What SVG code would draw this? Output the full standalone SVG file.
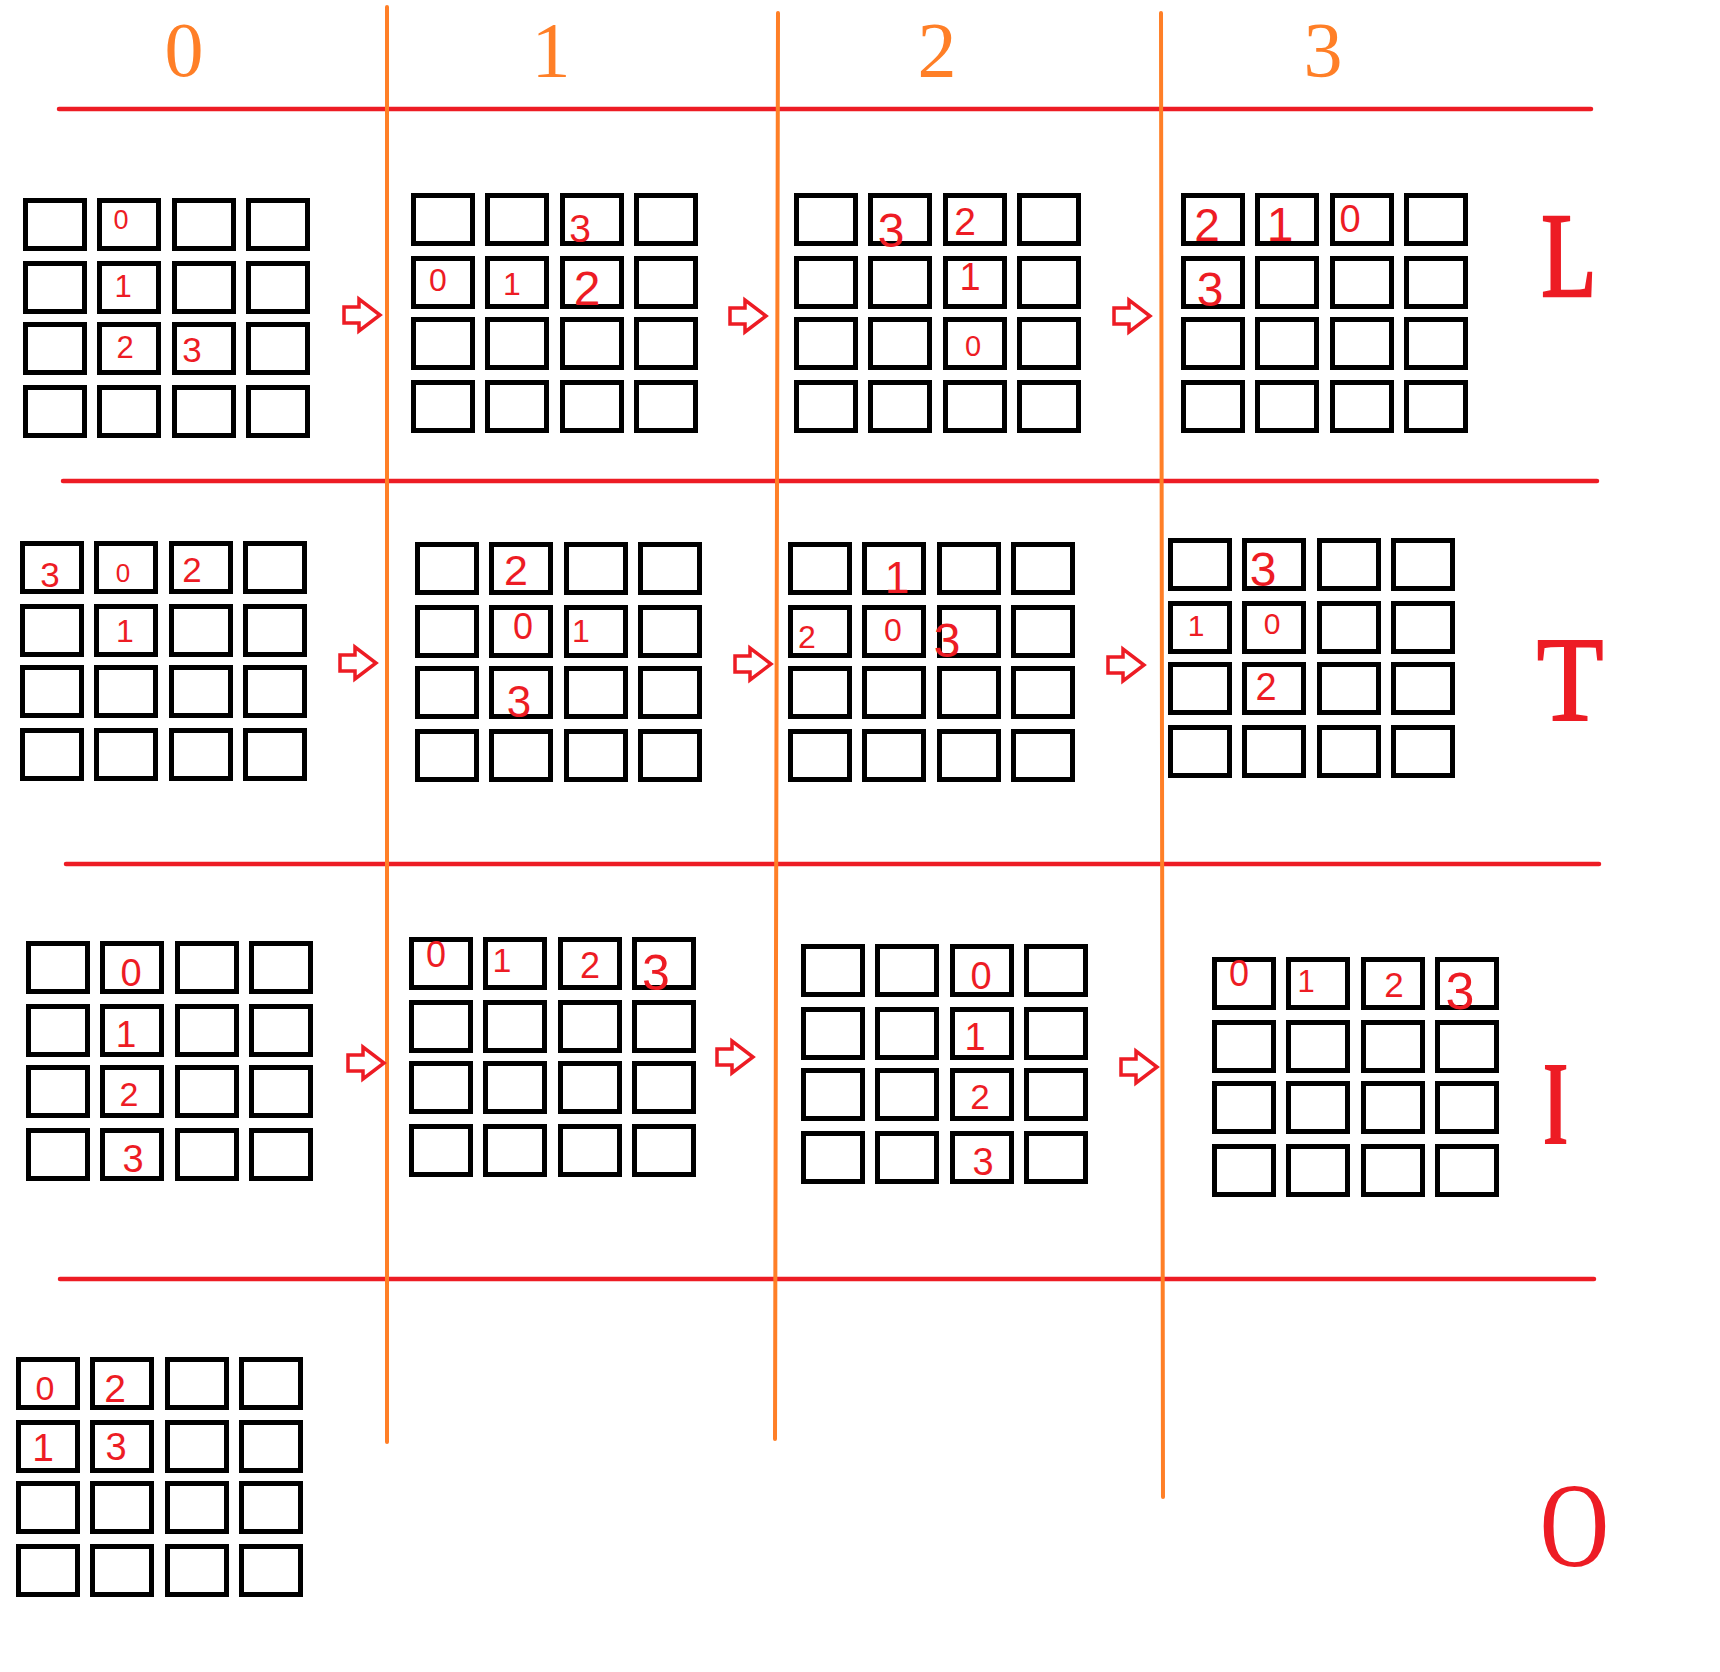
<svg xmlns="http://www.w3.org/2000/svg" xmlns:xlink="http://www.w3.org/1999/xlink" width="1720" height="1672" viewBox="0 0 1720 1672">
<style>
.cell{fill:none;stroke:#000;stroke-width:5}
.num{fill:#ED1C24;font-family:"Liberation Sans",Arial,sans-serif;text-anchor:middle}
.hdr{fill:#FF7F27;font-family:"Liberation Serif","Times New Roman",serif;font-size:78px;text-anchor:middle}
.big{fill:#ED1C24;stroke:#ED1C24;font-family:"Liberation Serif","Times New Roman",serif;font-size:120px;text-anchor:middle}
.vl{stroke:#FF7F27;stroke-width:4;stroke-linecap:round;fill:none}
.hl{stroke:#ED1C24;stroke-width:4.5;stroke-linecap:round;fill:none}
.arr{fill:#fff;stroke:#ED1C24;stroke-width:3.5;stroke-linejoin:miter}
</style>
<defs>
<g id="grid">
<rect class="cell" x="2.5" y="2.5" width="59" height="48"/><rect class="cell" x="76.5" y="2.5" width="59" height="48"/><rect class="cell" x="151.5" y="2.5" width="59" height="48"/><rect class="cell" x="225.5" y="2.5" width="59" height="48"/>
<rect class="cell" x="2.5" y="65.5" width="59" height="48"/><rect class="cell" x="76.5" y="65.5" width="59" height="48"/><rect class="cell" x="151.5" y="65.5" width="59" height="48"/><rect class="cell" x="225.5" y="65.5" width="59" height="48"/>
<rect class="cell" x="2.5" y="126.5" width="59" height="48"/><rect class="cell" x="76.5" y="126.5" width="59" height="48"/><rect class="cell" x="151.5" y="126.5" width="59" height="48"/><rect class="cell" x="225.5" y="126.5" width="59" height="48"/>
<rect class="cell" x="2.5" y="189.5" width="59" height="48"/><rect class="cell" x="76.5" y="189.5" width="59" height="48"/><rect class="cell" x="151.5" y="189.5" width="59" height="48"/><rect class="cell" x="225.5" y="189.5" width="59" height="48"/>
</g>
<polygon id="arrow" class="arr" points="-18,-8 -3,-8 -3,-16 18,0 -3,16 -3,8 -18,8"/>
</defs>
<rect width="1720" height="1672" fill="#fff"/>

<g id="lines">
<line class="hl" x1="59" y1="109" x2="1591" y2="109"/>
<line class="hl" x1="63" y1="481" x2="1597" y2="481"/>
<line class="hl" x1="66" y1="864" x2="1599" y2="864"/>
<line class="hl" x1="60" y1="1279" x2="1594" y2="1279"/>
<line class="vl" x1="387" y1="7" x2="387" y2="1442"/>
<line class="vl" x1="778" y1="13" x2="775" y2="1439"/>
<line class="vl" x1="1161" y1="13" x2="1163" y2="1497"/>
</g>

<g id="headers">
<text class="hdr" x="184" y="76">0</text>
<text class="hdr" x="551" y="76">1</text>
<text class="hdr" x="937" y="76">2</text>
<text class="hdr" x="1323" y="76">3</text>
</g>

<g id="labels">
<text class="big" font-size="115.5" stroke-width="2.5" transform="translate(1569,296) scale(0.755,1)">L</text>
<text class="big" font-size="117" stroke-width="2" transform="translate(1570,720) scale(0.91,1)">T</text>
<text class="big" font-size="117" stroke-width="0" font-weight="bold" transform="translate(1555.5,1144) scale(0.55,1)">I</text>
<text class="big" stroke-width="0" transform="translate(1574.5,1566) scale(0.8,1)">O</text>
</g>

<g id="L0"><use xlink:href="#grid" x="23" y="198"/>
<text class="num" x="121" y="229" font-size="27">0</text><text class="num" x="123" y="297" font-size="31">1</text><text class="num" x="125" y="358" font-size="31">2</text><text class="num" x="192" y="362" font-size="35">3</text></g>
<g id="L1"><use xlink:href="#grid" x="411" y="193"/>
<text class="num" x="580" y="242" font-size="39">3</text><text class="num" x="438" y="291" font-size="32">0</text><text class="num" x="512" y="295" font-size="32">1</text><text class="num" x="587" y="305" font-size="48">2</text></g>
<g id="L2"><use xlink:href="#grid" x="794" y="193"/>
<text class="num" x="891" y="247" font-size="48">3</text><text class="num" x="965" y="235" font-size="39">2</text><text class="num" x="970" y="290" font-size="38">1</text><text class="num" x="973" y="356" font-size="29">0</text></g>
<g id="L3"><use xlink:href="#grid" x="1181" y="193"/>
<text class="num" x="1207" y="241" font-size="46">2</text><text class="num" x="1280" y="241" font-size="48">1</text><text class="num" x="1350" y="232" font-size="38">0</text><text class="num" x="1210" y="306" font-size="48">3</text></g>

<g id="T0"><use xlink:href="#grid" x="20" y="541"/>
<text class="num" x="50" y="587" font-size="35">3</text><text class="num" x="123" y="582" font-size="26">0</text><text class="num" x="192" y="582" font-size="35">2</text><text class="num" x="125" y="642" font-size="32">1</text></g>
<g id="T1"><use xlink:href="#grid" x="415" y="542"/>
<text class="num" x="516" y="585" font-size="43">2</text><text class="num" x="523" y="639" font-size="36">0</text><text class="num" x="581" y="642" font-size="32">1</text><text class="num" x="519" y="717" font-size="44">3</text></g>
<g id="T2"><use xlink:href="#grid" x="788" y="542"/>
<text class="num" x="807" y="648" font-size="32">2</text><text class="num" x="897" y="593" font-size="44">1</text><text class="num" x="893" y="641" font-size="32">0</text><text class="num" x="947" y="657" font-size="48">3</text></g>
<g id="T3"><use xlink:href="#grid" x="1168" y="538"/>
<text class="num" x="1263" y="586" font-size="48">3</text><text class="num" x="1196" y="636" font-size="30">1</text><text class="num" x="1272" y="634" font-size="30">0</text><text class="num" x="1266" y="700" font-size="38">2</text></g>

<g id="I0"><use xlink:href="#grid" x="26" y="941"/>
<text class="num" x="131" y="986" font-size="38">0</text><text class="num" x="126" y="1047" font-size="37">1</text><text class="num" x="129" y="1106" font-size="34">2</text><text class="num" x="133" y="1172" font-size="38">3</text></g>
<g id="I1"><use xlink:href="#grid" x="409" y="937"/>
<text class="num" x="436" y="967" font-size="36">0</text><text class="num" x="502" y="972" font-size="34">1</text><text class="num" x="590" y="978" font-size="36">2</text><text class="num" x="656" y="990" font-size="50">3</text></g>
<g id="I2"><use xlink:href="#grid" x="801" y="944"/>
<text class="num" x="981" y="989" font-size="38">0</text><text class="num" x="975" y="1050" font-size="38">1</text><text class="num" x="980" y="1109" font-size="35">2</text><text class="num" x="983" y="1175" font-size="38">3</text></g>
<g id="I3"><use xlink:href="#grid" x="1212" y="957"/>
<text class="num" x="1239" y="986" font-size="36">0</text><text class="num" x="1306" y="992" font-size="31">1</text><text class="num" x="1394" y="997" font-size="35">2</text><text class="num" x="1460" y="1009" font-size="52">3</text></g>

<g id="O0"><use xlink:href="#grid" x="16" y="1357"/>
<text class="num" x="45" y="1400" font-size="34">0</text><text class="num" x="115" y="1402" font-size="39">2</text><text class="num" x="43" y="1461" font-size="39">1</text><text class="num" x="116" y="1460" font-size="38">3</text></g>

<g id="connectors">
<use xlink:href="#arrow" x="362" y="315"/>
<use xlink:href="#arrow" x="748" y="316"/>
<use xlink:href="#arrow" x="1132" y="316"/>
<use xlink:href="#arrow" x="358" y="663"/>
<use xlink:href="#arrow" x="753" y="664"/>
<use xlink:href="#arrow" x="1126" y="665"/>
<use xlink:href="#arrow" x="366" y="1063"/>
<use xlink:href="#arrow" x="735" y="1057"/>
<use xlink:href="#arrow" x="1139" y="1067"/>
</g>
</svg>
